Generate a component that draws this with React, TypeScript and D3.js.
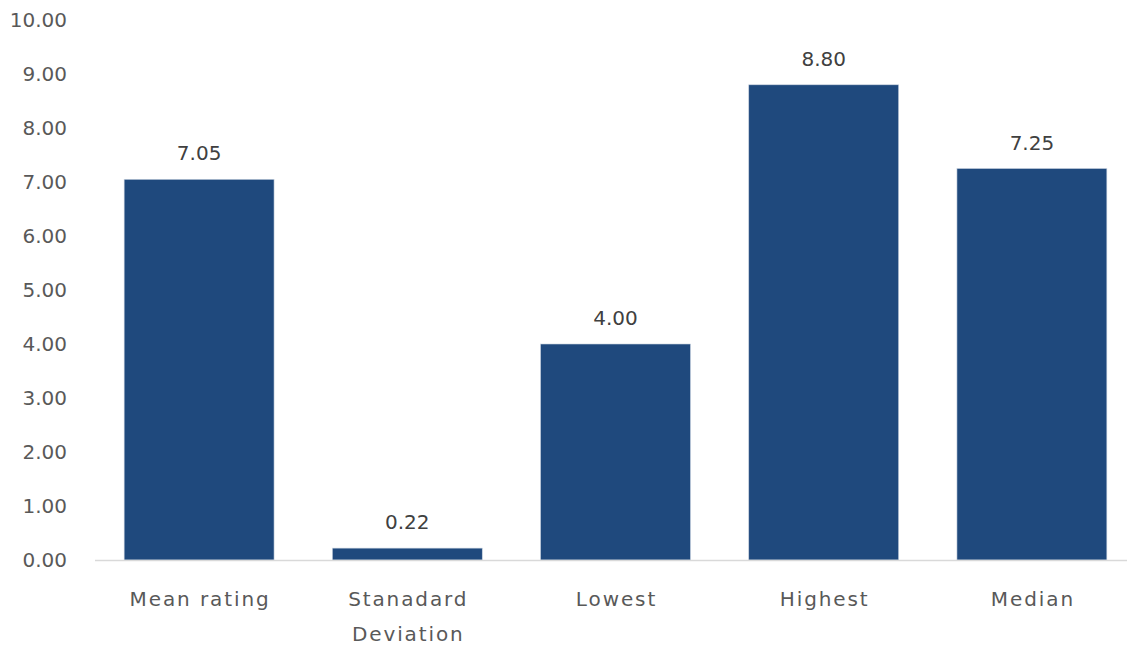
import React from "react";
import * as d3 from "d3";

const categories = ["Mean rating", "Stanadard Deviation", "Lowest", "Highest", "Median"];
const values = [7.05, 0.22, 4.0, 8.8, 7.25];
const yTicks = [0, 1, 2, 3, 4, 5, 6, 7, 8, 9, 10];

const W = 1127;
const H = 646;
const FONT = "'DejaVu Sans', 'Open Sans', sans-serif";

export default function App() {
  const x = d3.scaleBand<string>().domain(categories).range([95, 1136]).paddingInner(0.28).paddingOuter(0.14);
  const y = d3.scaleLinear().domain([0, 10]).range([560, 20]);
  const fmt = d3.format(".2f");

  const wrap = (s: string) => (s === "Stanadard Deviation" ? ["Stanadard", "Deviation"] : [s]);

  return (
    <svg width={W} height={H} style={{ position: "absolute", left: 0, top: 0, background: "#fff" }}>
      {yTicks.map((t) => (
        <text key={t} x={67} y={y(t)} dy="0.35em" textAnchor="end" fontFamily={FONT} fontSize={20} fill="#595959">
          {fmt(t)}
        </text>
      ))}
      {categories.map((c, i) => {
        const cx = (x(c) as number) + x.bandwidth() / 2;
        return (
          <g key={c}>
            <rect
              x={x(c)}
              y={y(values[i])}
              width={x.bandwidth()}
              height={y(0) - y(values[i])}
              fill="#1F497D"
              stroke="#c9d3df"
              strokeWidth={0.6}
            />
            <text
              x={cx}
              y={y(values[i]) - 26}
              dy="0.35em"
              textAnchor="middle"
              fontFamily={FONT}
              fontSize={20}
              fill="#404040"
            >
              {fmt(values[i])}
            </text>
            {wrap(c).map((line, j) => (
              <text
                key={j}
                x={cx + 1}
                y={599 + j * 35}
                dy="0.35em"
                textAnchor="middle"
                fontFamily={FONT}
                fontSize={20}
                letterSpacing={1.9}
                fill="#595959"
              >
                {line}
              </text>
            ))}
          </g>
        );
      })}
      <line x1={95} x2={1127} y1={y(0) + 0.5} y2={y(0) + 0.5} stroke="#d9d9d9" strokeWidth={1.5} />
    </svg>
  );
}
